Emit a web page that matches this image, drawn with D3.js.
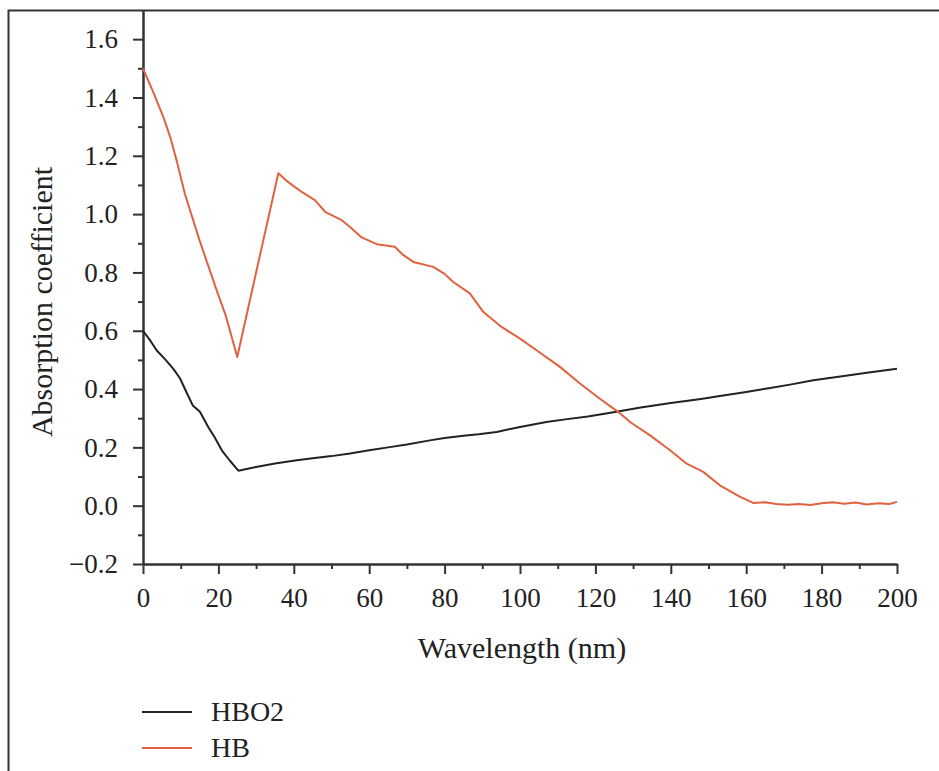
<!DOCTYPE html>
<html>
<head>
<meta charset="utf-8">
<script src="https://cdn.jsdelivr.net/npm/d3@7"></script>
<style>
	body { margin: 0; background: #fff; }
	svg { display: block; }
</style>
</head>
<body>
<svg id="chart" width="939" height="771"></svg>
<script>

	// Data
	var hbo2X = [0, 2, 3.6, 6, 8, 9.8, 11.5, 13.2, 15.1, 17.3, 19, 20.9, 23, 25.3, 30, 35, 40.8, 45, 50, 54.9, 60, 65, 70, 76.1, 80, 85, 89, 93.8, 100, 107, 112, 118, 125.6, 132, 140, 148, 153, 160, 166, 172, 177.8, 185, 192, 200];
	var hbo2Y = [0.6, 0.565, 0.533, 0.5, 0.47, 0.437, 0.39, 0.344, 0.322, 0.27, 0.235, 0.19, 0.155, 0.12, 0.133, 0.145, 0.156, 0.163, 0.17, 0.179, 0.19, 0.2, 0.21, 0.224, 0.232, 0.24, 0.245, 0.253, 0.27, 0.287, 0.296, 0.306, 0.322, 0.337, 0.352, 0.366, 0.376, 0.39, 0.403, 0.416, 0.43, 0.443, 0.456, 0.47];

	var hbX = [0, 3, 5.4, 7.2, 9, 11.1, 15, 19.5, 22, 25, 30, 35.9, 38, 42.1, 45.6, 48.3, 52.7, 55, 58, 62, 66.8, 69, 71.7, 77, 80, 82.3, 86.7, 90.3, 95.1, 100, 104.4, 110.6, 115.9, 121.2, 126.1, 129.2, 134.5, 139.8, 144.2, 148.6, 153, 158.4, 162, 165, 168, 171, 174, 177, 180, 183, 186, 189, 192, 195, 198, 200];
	var hbY = [1.5, 1.41, 1.333, 1.265, 1.18, 1.07, 0.91, 0.74, 0.65, 0.51, 0.8, 1.14, 1.115, 1.076, 1.048, 1.008, 0.979, 0.955, 0.92, 0.897, 0.888, 0.86, 0.836, 0.819, 0.795, 0.767, 0.728, 0.664, 0.613, 0.573, 0.533, 0.476, 0.419, 0.367, 0.321, 0.287, 0.241, 0.19, 0.144, 0.116, 0.07, 0.03, 0.009, 0.012, 0.006, 0.003, 0.006, 0.002, 0.008, 0.012, 0.007, 0.011, 0.004, 0.008, 0.006, 0.013];

	var xTicks = [0, 20, 40, 60, 80, 100, 120, 140, 160, 180, 200];
	var xMinor = [10, 30, 50, 70, 90, 110, 130, 150, 170, 190];
	var yTicks = [-0.2, 0, 0.2, 0.4, 0.6, 0.8, 1.0, 1.2, 1.4, 1.6];
	var yMinor = [-0.1, 0.1, 0.3, 0.5, 0.7, 0.9, 1.1, 1.3, 1.5];
	var seriesNames = ["HBO2", "HB"];
	var seriesColors = ["#222222", "#e0623f"];

	var serif = '"Liberation Serif", "Times New Roman", serif';
	var svg = d3.select('#chart');

	// frame round the figure
	svg.append('path')
		.attr('d', 'M8.5,771 L8.5,10.5 L939,10.5')
		.attr('fill', 'none')
		.attr('stroke', '#333')
		.attr('stroke-width', 2);

	// Scales
	var x = d3.scaleLinear().domain([0, 200]).range([143, 897]);
	var y = d3.scaleLinear().domain([-0.2, 1.7]).range([564, 10]);

	// Axes: major ticks with labels, then minor ticks
	svg.append('g')
		.attr('transform', 'translate(0,' + y(-0.2) + ')')
		.call(d3.axisBottom(x).tickValues(xTicks).tickSize(10).tickPadding(14).tickSizeOuter(0));
	svg.append('g')
		.attr('transform', 'translate(0,' + y(-0.2) + ')')
		.call(d3.axisBottom(x).tickValues(xMinor).tickSize(5).tickFormat('').tickSizeOuter(0));

	svg.append('g')
		.attr('transform', 'translate(' + x(0) + ',0)')
		.call(d3.axisLeft(y).tickValues(yTicks).tickSize(10).tickPadding(15).tickSizeOuter(0).tickFormat(d3.format('.1f')));
	svg.append('g')
		.attr('transform', 'translate(' + x(0) + ',0)')
		.call(d3.axisLeft(y).tickValues(yMinor).tickSize(5).tickFormat('').tickSizeOuter(0));

	svg.selectAll('.domain, .tick line')
		.attr('stroke', '#333')
		.attr('stroke-width', 2);
	svg.selectAll('.tick text')
		.style('font-family', serif)
		.style('font-size', '27px')
		.attr('fill', '#222');

	// Axis titles
	svg.append('text')
		.attr('x', 522)
		.attr('y', 658)
		.attr('text-anchor', 'middle')
		.style('font-family', serif)
		.style('font-size', '30px')
		.attr('fill', '#222')
		.text('Wavelength (nm)');

	svg.append('text')
		.attr('transform', 'translate(52,302) rotate(-90)')
		.attr('text-anchor', 'middle')
		.style('font-family', serif)
		.style('font-size', '30px')
		.attr('fill', '#222')
		.text('Absorption coefficient');

	// Lines
	var line = d3.line()
		.x(function(d) { return x(d[0]); })
		.y(function(d) { return y(d[1]); });

	var hbo2 = d3.zip(hbo2X, hbo2Y);
	var hb = d3.zip(hbX, hbY);

	[hbo2, hb].forEach(function(data, i) {
		svg.append('path')
			.datum(data)
			.attr('d', line)
			.attr('fill', 'none')
			.attr('stroke', seriesColors[i])
			.attr('stroke-width', 2)
			.attr('stroke-linejoin', 'round');
	});

	// Legend
	seriesNames.forEach(function(name, i) {
		var ly = 712 + i * 36;
		svg.append('line')
			.attr('x1', 142).attr('x2', 192)
			.attr('y1', ly).attr('y2', ly)
			.attr('stroke', seriesColors[i])
			.attr('stroke-width', 2);
		svg.append('text')
			.attr('x', 211)
			.attr('y', ly + 9)
			.style('font-family', serif)
			.style('font-size', '28px')
			.attr('fill', '#222')
			.text(name);
	});

</script>
</body>
</html>
